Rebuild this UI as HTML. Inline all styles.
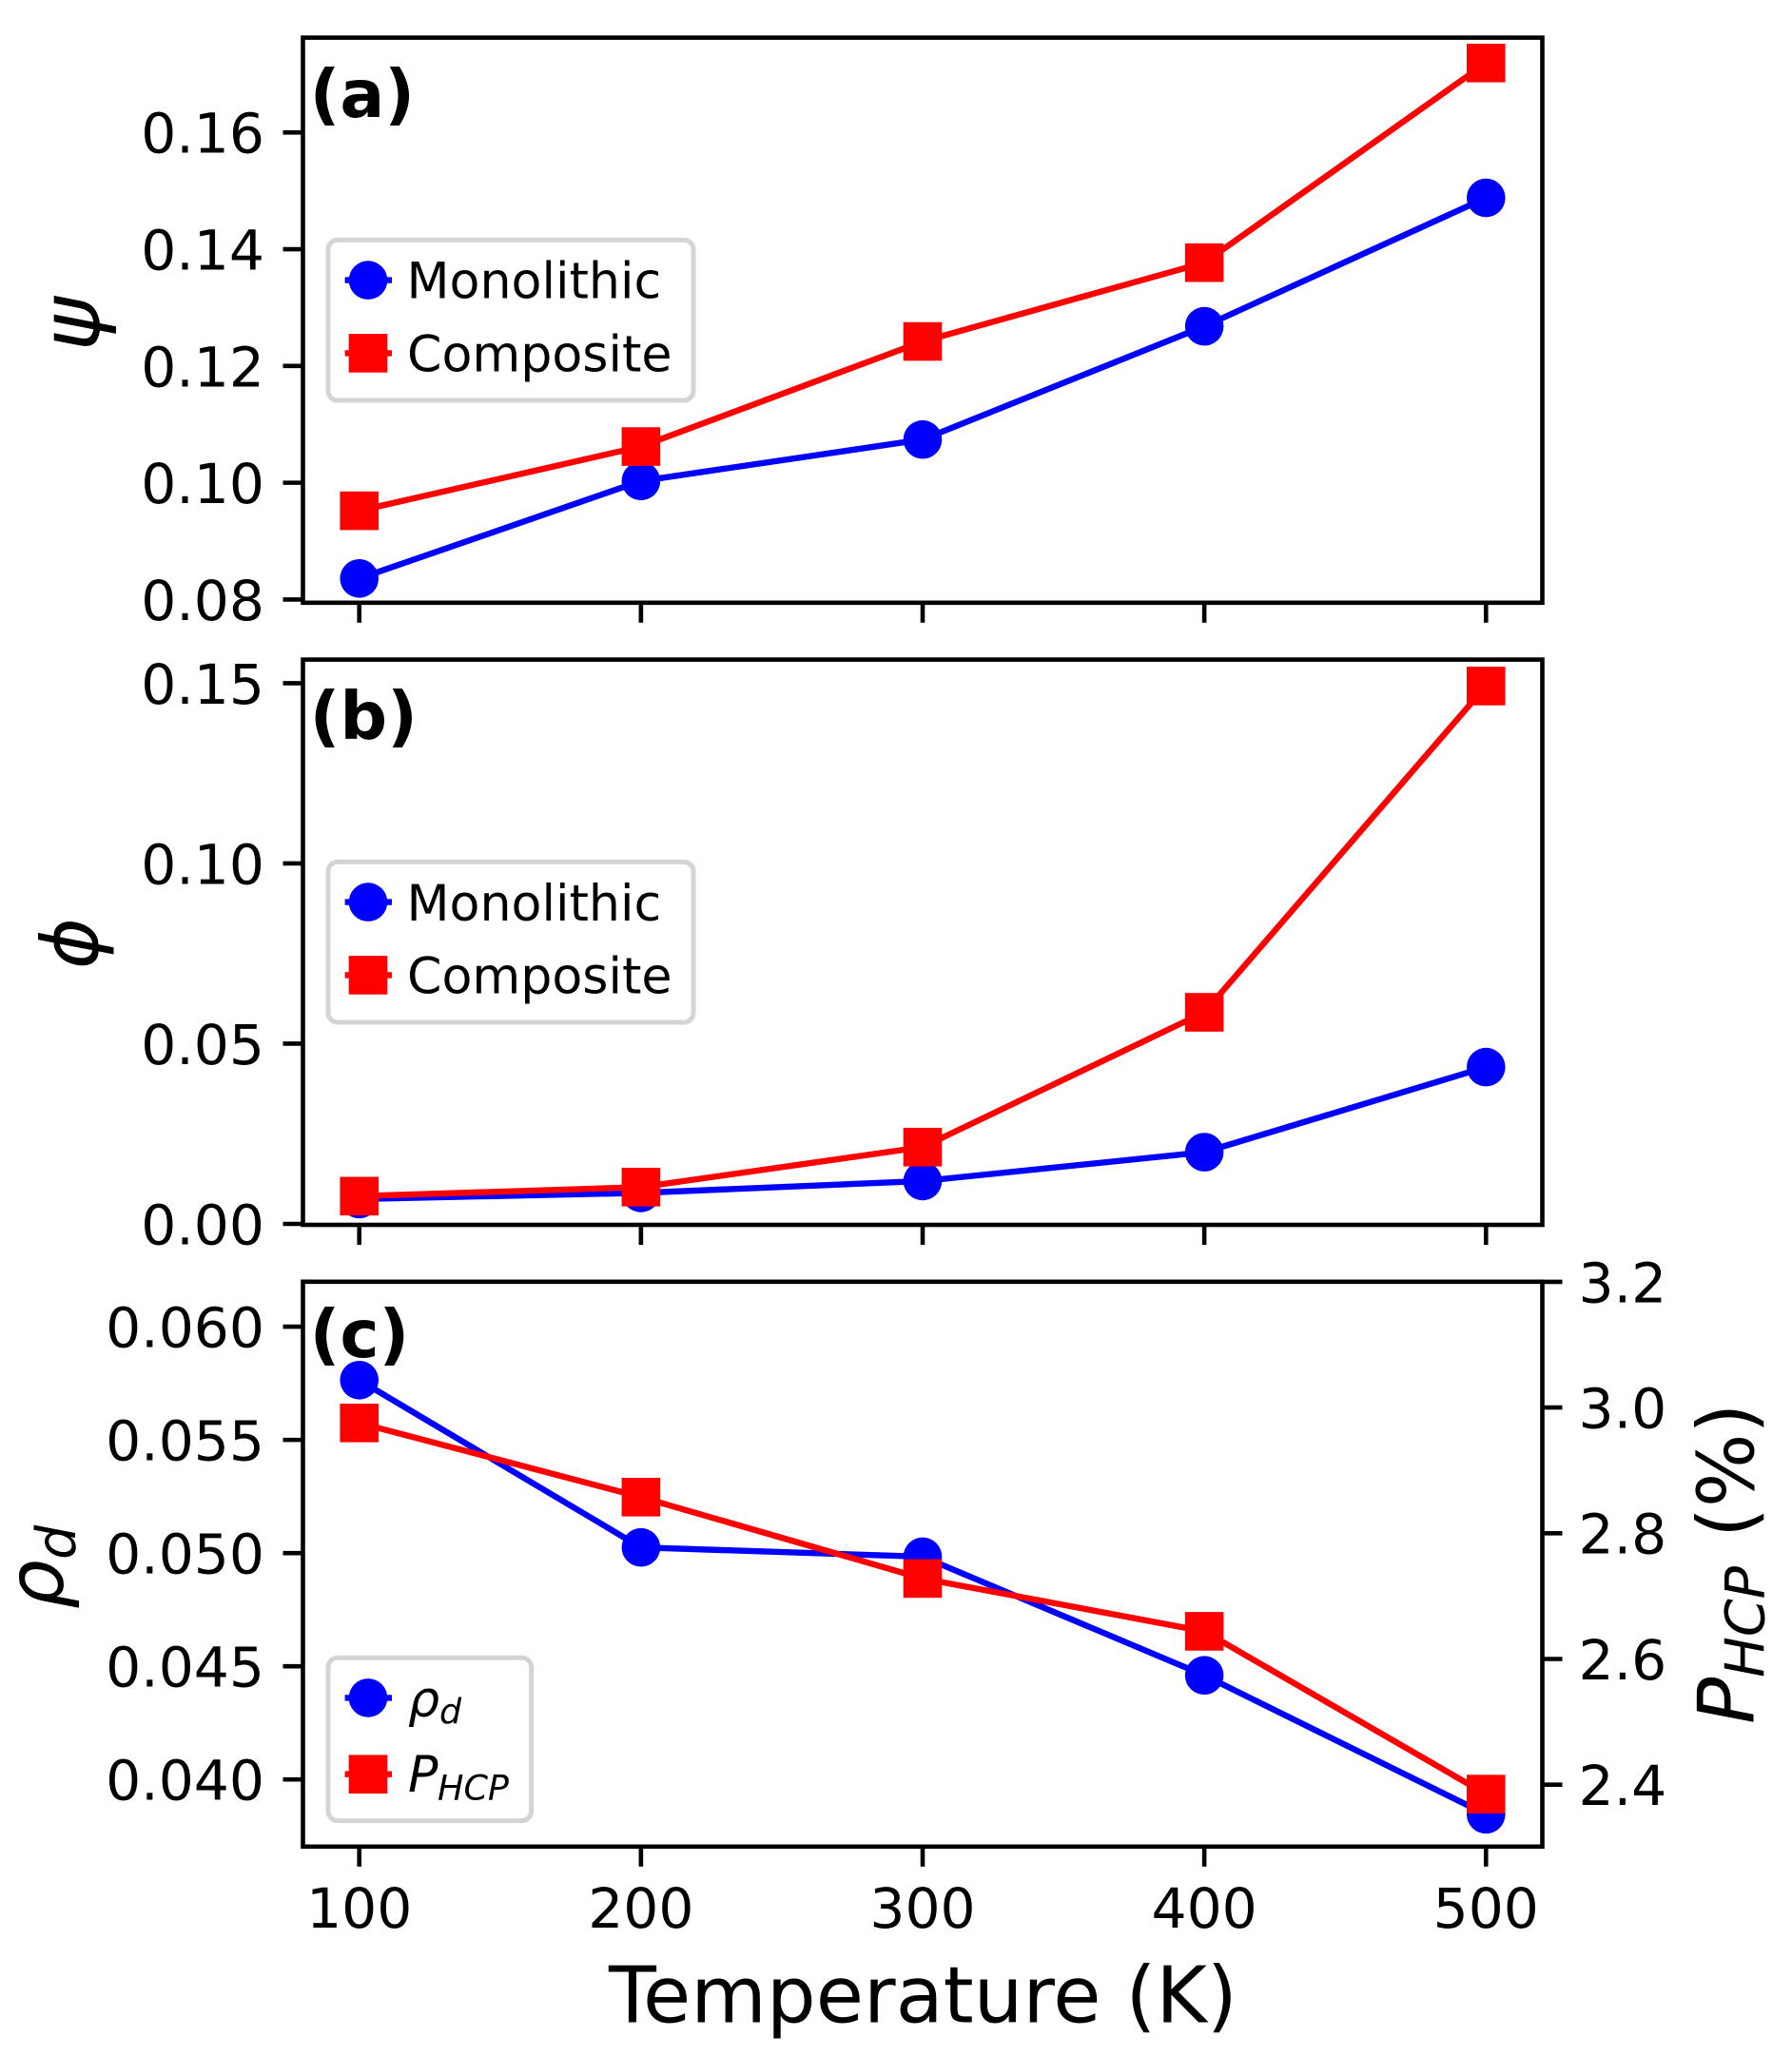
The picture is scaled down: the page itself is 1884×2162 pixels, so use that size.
<!DOCTYPE html>
<html lang="en">
<head>
<meta charset="utf-8">
<title>Temperature dependence chart</title>
<style>
html,body{margin:0;padding:0;background:#fff;width:1884px;height:2162px;overflow:hidden}
svg{display:block}
text{font-family:"DejaVu Sans","Liberation Sans",sans-serif;fill:#000}
.it{font-style:italic}
</style>
</head>
<body>
<svg id="chart" xmlns="http://www.w3.org/2000/svg" width="1884" height="2162" viewBox="0 0 1884 2162">
<rect x="0" y="0" width="1884" height="2162" fill="#fff"/>
</svg>
<script>
// ---- data ----
const temperatures = [100, 200, 300, 400, 500];
const xTickLabels = ['100', '200', '300', '400', '500'];

const psiMonolithic = [0.0836, 0.1003, 0.1074, 0.1268, 0.1488];
const psiComposite = [0.0952, 0.1062, 0.1242, 0.1377, 0.1719];
const psiTicks = [0.08, 0.10, 0.12, 0.14, 0.16];
const psiTickLabels = ['0.08', '0.10', '0.12', '0.14', '0.16'];

const phiMonolithic = [0.0069, 0.0086, 0.0119, 0.0199, 0.0435];
const phiComposite = [0.0077, 0.0102, 0.0213, 0.0587, 0.1492];
const phiTicks = [0.00, 0.05, 0.10, 0.15];
const phiTickLabels = ['0.00', '0.05', '0.10', '0.15'];

const rhoValues = [0.05764, 0.05025, 0.04984, 0.0446, 0.03846];
const pHcpValues = [2.9755, 2.8575, 2.728, 2.644, 2.385];
const rhoTicks = [0.040, 0.045, 0.050, 0.055, 0.060];
const rhoTickLabels = ['0.040', '0.045', '0.050', '0.055', '0.060'];
const pHcpTicks = [2.4, 2.6, 2.8, 3.0, 3.2];
const pHcpTickLabels = ['2.4', '2.6', '2.8', '3.0', '3.2'];

// ---- helpers ----
const NS = 'http://www.w3.org/2000/svg';
const svg = document.getElementById('chart');
const BLUE = '#0000ff', RED = '#ff0000';
const SPINE_W = 4.6, LINE_W = 6.4, MARK = 40.6, TICK_LEN = 21;
const TICK_FONT = 58.3, TICK_DY = 21.4, LEGEND_FONT = 52.2, TITLE_FONT = 81.7, TAG_FONT = 69.5;
const LEFT = 318.5, RIGHT = 1621.5;

function linear(d0, d1, r0, r1) {
  return function (v) { return r0 + (v - d0) * (r1 - r0) / (d1 - d0); };
}
const xScale = linear(80, 520, LEFT, RIGHT);
const yPsi = linear(0.08, 0.16, 630.4, 139.3);
const yPhi = linear(0, 0.15, 1287, 718.4);
const yRho = linear(0.04, 0.06, 1871.2, 1395.1);
const yPhcp = linear(2.4, 3.2, 1876.7, 1347.9);

function make(tag, name, parent, attrs) {
  const el = document.createElementNS(NS, tag);
  
  
  for (const k in attrs) el.setAttribute(k, attrs[k]);
  (parent || svg).appendChild(el);
  return el;
}
function label(name, parent, str, x, y, size, opts) {
  opts = opts || {};
  const a = { x: x, y: y, 'font-size': size };
  if (opts.anchor) a['text-anchor'] = opts.anchor;
  if (opts.bold) a['font-weight'] = 'bold';
  if (opts.italic) a['font-style'] = 'italic';
  if (opts.rotate) {
    a.transform = 'rotate(-90 ' + x + ' ' + y + ')';
  }
  const t = make('text', name, parent, a);
  t.textContent = str;
  return t;
}
function drawSeries(name, parent, xs, ys, yFn, color, shape) {
  const g = make('g', name, parent, {});
  const pts = xs.map(function (v, i) { return xScale(v).toFixed(2) + ',' + yFn(ys[i]).toFixed(2); }).join(' ');
  make('polyline', name + '-line', g, { points: pts, fill: 'none', stroke: color, 'stroke-width': LINE_W, 'stroke-linejoin': 'round' });
  xs.forEach(function (v, i) {
    const cx = xScale(v), cy = yFn(ys[i]);
    if (shape === 'circle') {
      make('circle', name + '-point-' + v, g, { cx: cx, cy: cy, r: MARK / 2, fill: color });
    } else {
      make('rect', name + '-point-' + v, g, { x: cx - MARK / 2, y: cy - MARK / 2, width: MARK, height: MARK, fill: color });
    }
  });
}
function drawFrame(name, parent, top, bottom) {
  make('rect', name + '-frame', parent, { x: LEFT, y: top, width: RIGHT - LEFT, height: bottom - top, fill: 'none', stroke: '#000', 'stroke-width': SPINE_W, 'stroke-linejoin': 'miter' });
}
function drawXTicks(name, parent, bottom, withLabels) {
  temperatures.forEach(function (v, i) {
    const x = xScale(v);
    make('line', name + '-x-tick-' + v, parent, { x1: x, x2: x, y1: bottom, y2: bottom + TICK_LEN, stroke: '#000', 'stroke-width': SPINE_W });
    if (withLabels) label(name + '-x-tick-label-' + v, parent, xTickLabels[i], x, 2027, TICK_FONT, { anchor: 'middle' });
  });
}
function drawYTicks(name, parent, ticks, labels, yFn) {
  ticks.forEach(function (v, i) {
    const y = yFn(v);
    make('line', name + '-y-tick-' + labels[i], parent, { x1: LEFT - TICK_LEN, x2: LEFT, y1: y, y2: y, stroke: '#000', 'stroke-width': SPINE_W });
    label(name + '-y-tick-label-' + labels[i], parent, labels[i], 278, y + TICK_DY, TICK_FONT, { anchor: 'end' });
  });
}
function drawLegendBox(name, parent, x0, y0, x1, y1) {
  make('rect', name + '-box', parent, { x: x0, y: y0, width: x1 - x0, height: y1 - y0, rx: 10, ry: 10, fill: '#fff', 'fill-opacity': 0.8, stroke: '#d4d4d4', 'stroke-width': 5 });
}
function drawHandle(name, parent, y, color, shape) {
  const cx = 387;
  make('line', name + '-handle-line', parent, { x1: 362.6, x2: 412, y1: y, y2: y, stroke: color, 'stroke-width': LINE_W });
  if (shape === 'circle') {
    make('circle', name + '-handle-marker', parent, { cx: cx, cy: y, r: MARK / 2, fill: color });
  } else {
    make('rect', name + '-handle-marker', parent, { x: cx - MARK / 2, y: y - MARK / 2, width: MARK, height: MARK, fill: color });
  }
}
function seriesLegend(name, parent, offset, monoDy) {
  const g = make('g', name, parent, {});
  drawLegendBox(name, g, 345, 252.4 + offset, 729, 421 + offset);
  drawHandle('legend-monolithic', g, 294.6 + offset, BLUE, 'circle');
  label('legend-monolithic-label', g, 'Monolithic', 427.5, 313.5 + offset + monoDy, LEGEND_FONT);
  drawHandle('legend-composite', g, 371.4 + offset, RED, 'square');
  label('legend-composite-label', g, 'Composite', 428, 390.3 + offset, LEGEND_FONT);
}

// ---- panel a ----
const panelA = make('g', 'panel-a', svg, {});
label('panel-a-tag', panelA, '(a)', 325.6, 122.8, TAG_FONT, { bold: true });
drawSeries('psi-monolithic', panelA, temperatures, psiMonolithic, yPsi, BLUE, 'circle');
drawSeries('psi-composite', panelA, temperatures, psiComposite, yPsi, RED, 'square');
drawFrame('panel-a', panelA, 39.6, 633.8);
drawXTicks('panel-a', panelA, 633.8, false);
drawYTicks('panel-a', panelA, psiTicks, psiTickLabels, yPsi);
label('y-axis-title-psi', panelA, '\u03C8', 104, 369, 86, { italic: true, rotate: true });
seriesLegend('legend-a', panelA, 0, 0);

// ---- panel b ----
const panelB = make('g', 'panel-b', svg, {});
label('panel-b-tag', panelB, '(b)', 325.6, 776.8, TAG_FONT, { bold: true });
drawSeries('phi-monolithic', panelB, temperatures, phiMonolithic, yPhi, BLUE, 'circle');
drawSeries('phi-composite', panelB, temperatures, phiComposite, yPhi, RED, 'square');
drawFrame('panel-b', panelB, 693.6, 1288);
drawXTicks('panel-b', panelB, 1288, false);
drawYTicks('panel-b', panelB, phiTicks, phiTickLabels, yPhi);
label('y-axis-title-phi', panelB, '\u03D5', 102.5, 1019, TITLE_FONT, { italic: true, rotate: true });
seriesLegend('legend-b', panelB, 654, 0.5);

// ---- panel c ----
const panelC = make('g', 'panel-c', svg, {});
label('panel-c-tag', panelC, '(c)', 325.6, 1427, TAG_FONT, { bold: true });
drawSeries('rho-d', panelC, temperatures, rhoValues, yRho, BLUE, 'circle');
drawSeries('p-hcp', panelC, temperatures, pHcpValues, yPhcp, RED, 'square');
drawFrame('panel-c', panelC, 1347.8, 1941.8);
drawXTicks('panel-c', panelC, 1941.8, true);
drawYTicks('panel-c', panelC, rhoTicks, rhoTickLabels, yRho);
pHcpTicks.forEach(function (v, i) {
  const y = yPhcp(v);
  make('line', 'panel-c-right-tick-' + pHcpTickLabels[i], panelC, { x1: RIGHT, x2: RIGHT + TICK_LEN, y1: y, y2: y, stroke: '#000', 'stroke-width': SPINE_W });
  label('panel-c-right-tick-label-' + pHcpTickLabels[i], panelC, pHcpTickLabels[i], 1659.5, y + TICK_DY, TICK_FONT);
});
label('y-axis-title-rho', panelC, '\u03C1', 66, 1692, TITLE_FONT, { italic: true, rotate: true });
label('y-axis-title-rho-subscript', panelC, 'd', 79, 1640, 57, { italic: true, rotate: true });
label('right-axis-title-p', panelC, 'P', 1843.5, 1813, TITLE_FONT, { italic: true, rotate: true });
label('right-axis-title-hcp-subscript', panelC, 'HCP', 1854.5, 1764, 57, { italic: true, rotate: true });
label('right-axis-title-percent', panelC, '(%)', 1843.5, 1617, TITLE_FONT, { rotate: true });

const legendC = make('g', 'legend-c', panelC, {});
drawLegendBox('legend-c', legendC, 345, 1743.2, 558.6, 1914.6);
drawHandle('legend-rho', legendC, 1785.4, BLUE, 'circle');
label('legend-rho-label', legendC, '\u03C1', 429, 1805, LEGEND_FONT, { italic: true });
label('legend-rho-subscript', legendC, 'd', 462, 1812.4, 36.5, { italic: true });
drawHandle('legend-phcp', legendC, 1865.7, RED, 'square');
label('legend-phcp-label', legendC, 'P', 429, 1884, LEGEND_FONT, { italic: true });
label('legend-phcp-subscript', legendC, 'HCP', 460, 1892.6, 36.5, { italic: true });

label('x-axis-title', svg, 'Temperature (K)', 970.4, 2126.7, TITLE_FONT, { anchor: 'middle' });
</script>
</body>
</html>
